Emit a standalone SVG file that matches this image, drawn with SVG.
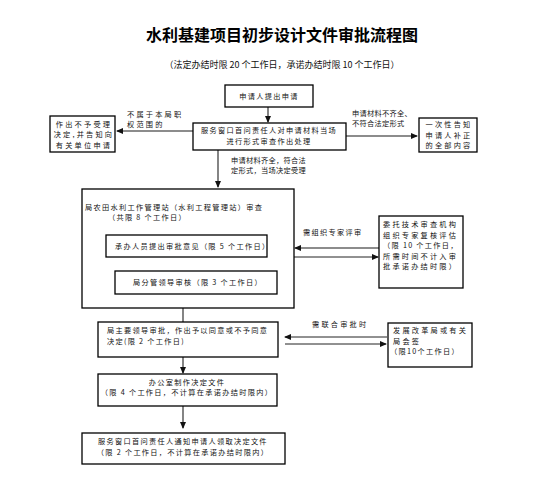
<svg xmlns="http://www.w3.org/2000/svg" width="558" height="485" viewBox="0 0 558 485">
<style>
text{font-family:"Noto Sans CJK SC","Noto Sans",sans-serif;font-size:7.2px;letter-spacing:1.3px;fill:#111}
.t{font-size:16px;font-weight:bold;fill:#000;letter-spacing:0}
.s{font-size:9px;letter-spacing:0}
.c{text-anchor:middle}
.w{letter-spacing:2.2px}
.n{letter-spacing:0.3px}
rect{fill:#fff;stroke:#000;stroke-width:1.3}
.g line{stroke:#666;stroke-width:1.6}
.g line.k{stroke:#222;stroke-width:1}
</style>
<defs>
<marker id="a" markerWidth="7" markerHeight="6" refX="6" refY="3" orient="auto" markerUnits="userSpaceOnUse">
<path d="M0,0 L7,3 L0,6 z" fill="#111"/>
</marker>
</defs>
<rect x="0" y="0" width="558" height="485" style="fill:#fff;stroke:none"/>
<text class="t c" x="282" y="41">水利基建项目初步设计文件审批流程图</text>
<text class="s c" x="282" y="68">（法定办结时限 20 个工作日，承诺办结时限 10 个工作日）</text>

<g class="g" id="connectors">
<line x1="268" y1="107" x2="268" y2="122" marker-end="url(#a)"/>
<line x1="193" y1="131" x2="117" y2="131" marker-end="url(#a)"/>
<line x1="346" y1="136" x2="417" y2="136" marker-end="url(#a)"/>
<line x1="218" y1="150" x2="218" y2="187" marker-end="url(#a)"/>
<line x1="192" y1="257" x2="192" y2="270" marker-end="url(#a)" class="k"/>
<line x1="379" y1="248" x2="295" y2="248" marker-end="url(#a)"/>
<line x1="294" y1="257" x2="378" y2="257" marker-end="url(#a)" class="k"/>
<line x1="183" y1="308" x2="183" y2="322"/>
<line x1="387" y1="337" x2="285" y2="337" marker-end="url(#a)" class="k"/>
<line x1="285" y1="344" x2="386" y2="344" marker-end="url(#a)" class="k"/>
<line x1="183" y1="357" x2="183" y2="373" marker-end="url(#a)"/>
<line x1="183" y1="406" x2="183" y2="428" marker-end="url(#a)"/>
<text class="w" x="127" y="116.5">不属于本局职</text>
<text class="w" x="127" y="127">权范围的</text>
<text class="n" x="352" y="115.5">申请材料不齐全、</text>
<text class="n" x="352" y="126">不符合法定形式</text>
<text class="n" x="231" y="162.5">申请材料齐全，符合法</text>
<text class="n" x="231" y="173">定形式，当场决定受理</text>
<text x="303" y="235">需组织专家评审</text>
<text class="w" x="312" y="327">需联合审批时</text>
</g>

<g id="n1"><rect x="225" y="85" width="88" height="22"/><text class="c" x="269" y="99">申请人提出申请</text></g>
<g id="n2"><rect x="193" y="123" width="153" height="27"/><text class="c" x="269" y="133">服务窗口首问责任人对申请材料当场</text><text class="c" x="269" y="143.5">进行形式审查作出处理</text></g>
<g id="n3"><rect x="50" y="116" width="65" height="36"/><text class="c w" x="84" y="126.5">作出不予受理</text><text class="c w" x="84" y="137">决定,并告知向</text><text class="c w" x="84" y="147.5">有关单位申请</text></g>
<g id="n4"><rect x="419" y="118" width="58" height="34"/><text class="c w" x="449" y="127">一次性告知</text><text class="c w" x="449" y="137.5">申请人补正</text><text class="c w" x="449" y="148">的全部内容</text></g>
<g id="n5"><rect x="82" y="189" width="212" height="119"/><text x="85" y="209.5">局农田水利工作管理站（水利工程管理站）审查</text><text x="108" y="220">（共限 8 个工作日）</text></g>
<g id="n6"><rect x="106" y="235" width="161" height="22"/><text x="115" y="249">承办人员提出审批意见（限 5 个工作日）</text></g>
<g id="n7"><rect x="115" y="271" width="162" height="23"/><text x="133" y="285">局分管领导审核（限 3 个工作日）</text></g>
<g id="n8"><rect x="379" y="216" width="84" height="72"/><text class="w" x="383" y="227">委托技术审查机构</text><text class="w" x="383" y="237.5">组织专家复核评估</text><text x="383" y="248">（限 10 个工作日，</text><text class="w" x="383" y="258.5">所需时间不计入审</text><text class="w" x="383" y="269">批承诺办结时限）</text></g>
<g id="n9"><rect x="98" y="322" width="180" height="35"/><text x="107" y="333">局主要领导审批，作出予以同意或不予同意</text><text x="107" y="343.5">决定(限 2 个工作日)</text></g>
<g id="n10"><rect x="388" y="323" width="84" height="44"/><text class="w" x="393" y="333">发展改革局或有关</text><text class="w" x="393" y="343.5">局会签</text><text x="390" y="354">（限10个工作日）</text></g>
<g id="n11"><rect x="98" y="374" width="179" height="32"/><text class="c" x="187" y="384.5">办公室制作决定文件</text><text class="c" x="187" y="395">（限 4 个工作日，不计算在承诺办结时限内）</text></g>
<g id="n12"><rect x="82" y="433" width="203" height="31"/><text class="c" x="183" y="444">服务窗口首问责任人通知申请人领取决定文件</text><text class="c" x="183" y="454.5">（限 2 个工作日，不计算在承诺办结时限内）</text></g>
</svg>
